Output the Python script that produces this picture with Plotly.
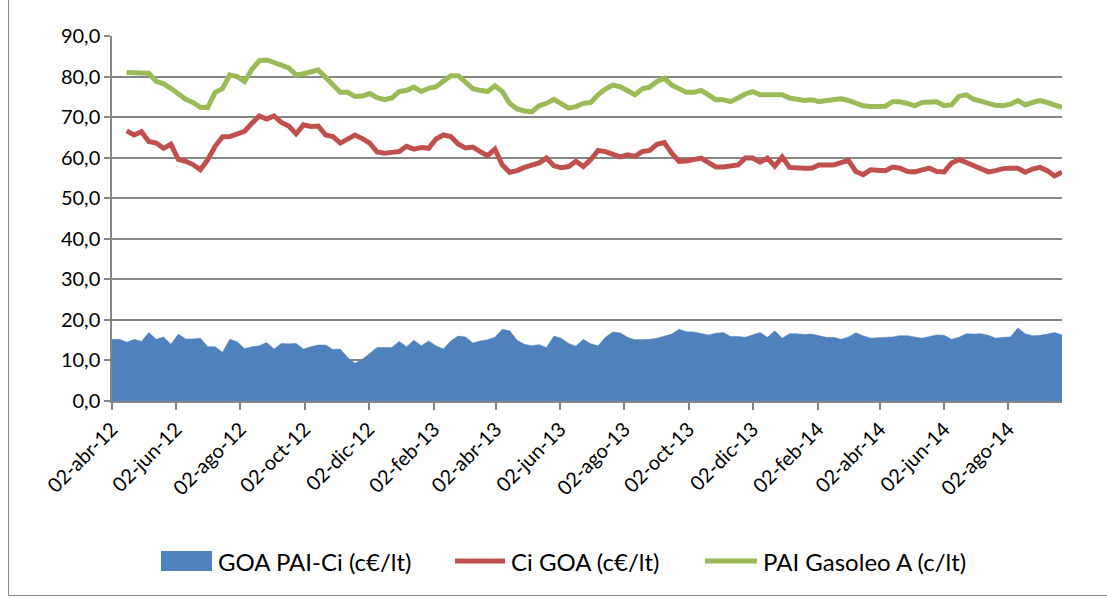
import pandas as pd
import plotly.graph_objects as go

# Weekly dates (Mondays) from 02-abr-2012
dates = pd.date_range("2012-04-02", periods=130, freq="7D")

# GOA PAI-Ci (c€/lt) - blue area, weeks 0..129
goa_pai_ci = [
    15.2, 15.2, 14.5, 15.2, 14.7, 16.9, 15.2, 15.8, 14.0, 16.5,
    15.3, 15.3, 15.5, 13.4, 13.4, 12.0, 15.2, 14.6, 12.9, 13.4,
    13.6, 14.4, 12.8, 14.2, 14.1, 14.2, 12.8, 13.4, 13.8, 13.8,
    12.7, 12.8, 10.7, 9.3, 10.3, 11.7, 13.2, 13.2, 13.2, 14.7,
    13.4, 15.0, 13.6, 14.8, 13.6, 12.8, 14.8, 16.0, 15.8, 14.3,
    14.8, 15.1, 15.7, 17.7, 17.3, 15.0, 14.0, 13.6, 13.9, 13.2,
    16.0, 15.5, 14.2, 13.5, 15.2,
    14.1, 13.6, 15.7, 17.0, 16.8, 15.7, 15.1, 15.2, 15.2, 15.5,
    16.0, 16.5, 17.7, 17.1, 17.0, 16.7, 16.3, 16.7, 16.9, 15.9,
    15.9, 15.7, 16.3, 16.9, 15.7, 17.3, 15.5, 16.6, 16.6, 16.4,
    16.5, 16.1, 15.7, 15.7, 15.2, 15.8, 16.8, 16.1, 15.5, 15.6,
    15.7, 15.8, 16.1, 16.1, 15.8, 15.5, 15.9, 16.3, 16.2, 15.2,
    15.7, 16.6, 16.5, 16.6, 16.2, 15.5, 15.7, 15.8, 18.0, 16.6,
    16.1, 16.2, 16.5, 16.9, 16.3,
]

# Ci GOA (c€/lt) - red line, first two weeks blank
ci_goa = [None, None,
    66.6, 65.6, 66.4, 64.0, 63.6, 62.3, 63.3, 59.6, 59.1, 58.3,
    57.0, 59.5, 62.8, 65.1, 65.2, 65.8, 66.5, 68.5, 70.3, 69.5,
    70.3, 68.7, 67.8, 65.9, 68.1, 67.7, 67.8, 65.6, 65.2, 63.6,
    64.6, 65.6, 64.7, 63.6, 61.4, 61.1, 61.3, 61.5, 62.8, 62.1,
    62.5, 62.3, 64.6, 65.6, 65.2, 63.4, 62.4, 62.6, 61.5, 60.5,
    62.1, 58.2, 56.4, 56.8, 57.6, 58.2, 58.7, 59.9, 58.0, 57.5,
    57.8, 59.1, 57.8,
    59.5, 61.8, 61.5, 61.0, 60.2, 60.7, 60.3, 61.5, 61.8, 63.3,
    63.7, 61.1, 59.1, 59.2, 59.5, 59.9, 58.8, 57.7, 57.7, 58.0,
    58.2, 59.9, 59.9, 58.9, 59.9, 57.9, 60.2, 57.6, 57.4, 57.4,
    57.4, 58.2,
    58.2, 58.2, 58.8, 59.3, 56.6, 55.8, 57.0, 56.8, 56.8, 57.7,
    57.4, 56.6, 56.5, 57.0, 57.4, 56.6, 56.5, 58.7, 59.5, 58.8,
    58.0, 57.2, 56.5, 56.8, 57.3, 57.4, 57.4, 56.4, 57.2, 57.6,
    56.8, 55.5, 56.4,
]

# PAI Gasoleo A (c/lt) - green line, first two weeks blank
pai_gasoleo_a = [None, None,
    81.0, 81.0, 81.0, 80.8, 78.8, 78.2, 77.1, 75.9, 74.4, 73.6,
    72.4, 72.4, 76.1, 77.0, 80.4, 80.0, 78.8, 81.8, 83.9, 84.1,
    83.3, 82.8, 82.1, 80.4, 80.7, 81.0, 81.6, 79.8, 77.9, 76.1,
    76.1, 75.1, 75.2, 75.8, 74.8, 74.3, 74.7, 76.3, 76.6, 77.4,
    76.3, 77.1, 77.5, 78.8, 80.2, 80.2, 78.4, 77.0, 76.6, 76.3,
    77.7, 76.3, 73.4, 72.0, 71.5, 71.3, 72.8, 73.4, 74.4, 73.3,
    72.2, 72.6, 73.4,
    73.6, 75.5, 76.9, 77.9, 77.5, 76.6, 75.5, 77.0, 77.4, 78.8,
    79.6, 77.9, 76.9, 76.1, 76.1, 76.6, 75.5, 74.3, 74.3, 73.8,
    74.7, 75.7, 76.3, 75.5, 75.5, 75.5, 75.5, 74.7, 74.3, 74.1,
    74.3, 73.8,
    74.1, 74.4, 74.5, 74.1, 73.4, 72.8, 72.6, 72.6, 72.7, 73.8,
    73.8, 73.4, 72.8, 73.6, 73.7, 73.8, 72.8, 73.0, 75.1, 75.5,
    74.4, 73.8, 73.3, 72.9, 72.8, 73.2, 74.1, 73.0, 73.6, 74.1,
    73.6, 72.9, 72.4,
]

tick_dates = ["2012-04-02", "2012-06-02", "2012-08-02", "2012-10-02", "2012-12-02",
              "2013-02-02", "2013-04-02", "2013-06-02", "2013-08-02", "2013-10-02",
              "2013-12-02", "2014-02-02", "2014-04-02", "2014-06-02", "2014-08-02"]
tick_labels = ["02-abr-12", "02-jun-12", "02-ago-12", "02-oct-12", "02-dic-12",
               "02-feb-13", "02-abr-13", "02-jun-13", "02-ago-13", "02-oct-13",
               "02-dic-13", "02-feb-14", "02-abr-14", "02-jun-14", "02-ago-14"]

series_names = ["GOA PAI-Ci (c€/lt)", "Ci GOA (c€/lt)", "PAI Gasoleo A (c/lt)"]
series_colors = ["#4F81BD", "#C0504D", "#9BBB59"]

FONT = "Lato, 'Liberation Sans', sans-serif"
GRID = "#868686"

fig = go.Figure()
fig.add_trace(go.Scatter(
    x=dates, y=goa_pai_ci, name=series_names[0], mode="lines",
    fill="tozeroy", fillcolor=series_colors[0],
    line=dict(color=series_colors[0], width=0.5),
))
fig.add_trace(go.Scatter(
    x=dates, y=ci_goa, name=series_names[1], mode="lines",
    line=dict(color=series_colors[1], width=5), connectgaps=False,
))
fig.add_trace(go.Scatter(
    x=dates, y=pai_gasoleo_a, name=series_names[2], mode="lines",
    line=dict(color=series_colors[2], width=5), connectgaps=False,
))

W, H = 1107, 598
L, R, T, B = 112, 45, 36, 197
pw, ph = W - L - R, H - T - B


def px(x):
    return (x - L) / pw


def py(y):
    return (T + ph - y) / ph


# Chart border (left and bottom edges visible) and manual Excel-style legend
shapes = [
    dict(type="line", xref="paper", yref="paper",
         x0=px(8.5), x1=px(8.5), y0=py(0), y1=py(595.5),
         line=dict(color="#868686", width=1)),
    dict(type="line", xref="paper", yref="paper",
         x0=px(8.5), x1=px(1107), y0=py(595.5), y1=py(595.5),
         line=dict(color="#868686", width=1)),
    dict(type="rect", xref="paper", yref="paper",
         x0=px(161), x1=px(212), y0=py(571), y1=py(551),
         line=dict(width=0), fillcolor=series_colors[0]),
    dict(type="line", xref="paper", yref="paper",
         x0=px(455), x1=px(505), y0=py(561), y1=py(561),
         line=dict(color=series_colors[1], width=5)),
    dict(type="line", xref="paper", yref="paper",
         x0=px(705), x1=px(757), y0=py(561), y1=py(561),
         line=dict(color=series_colors[2], width=5)),
]
annotations = [
    dict(xref="paper", yref="paper", x=px(x0), y=py(561), text=name,
         xanchor="left", yanchor="middle", showarrow=False,
         font=dict(family=FONT, size=24, color="#000000"))
    for x0, name in zip([216, 509, 761], series_names)
]

fig.update_layout(
    width=W, height=H,
    margin=dict(l=L, r=R, t=T, b=B, autoexpand=False),
    paper_bgcolor="white", plot_bgcolor="white",
    separators=",.",
    font=dict(family=FONT, size=19, color="#000000"),
    showlegend=False,
    xaxis=dict(
        type="date",
        range=[dates[0], dates[-1]],
        tickmode="array", tickvals=tick_dates, ticktext=tick_labels,
        tickangle=-45,
        ticks="outside", ticklen=7, tickcolor=GRID, tickwidth=1.5,
        showline=True, linecolor=GRID, linewidth=1.5,
        showgrid=False, zeroline=False,
        tickfont=dict(family=FONT, size=20, color="#000000"),
    ),
    yaxis=dict(
        range=[0, 90], dtick=10, tick0=0,
        tickformat=".1f",
        ticks="outside", ticklen=6, tickcolor=GRID, tickwidth=1.5,
        showline=True, linecolor=GRID, linewidth=1.5,
        showgrid=True, gridcolor=GRID, gridwidth=1.5,
        zeroline=False,
        tickfont=dict(family=FONT, size=20, color="#000000"),
    ),
    shapes=shapes,
    annotations=annotations,
)

fig.write_html("out.html", config={"displayModeBar": False},
               post_script="document.body.style.margin='0';")
